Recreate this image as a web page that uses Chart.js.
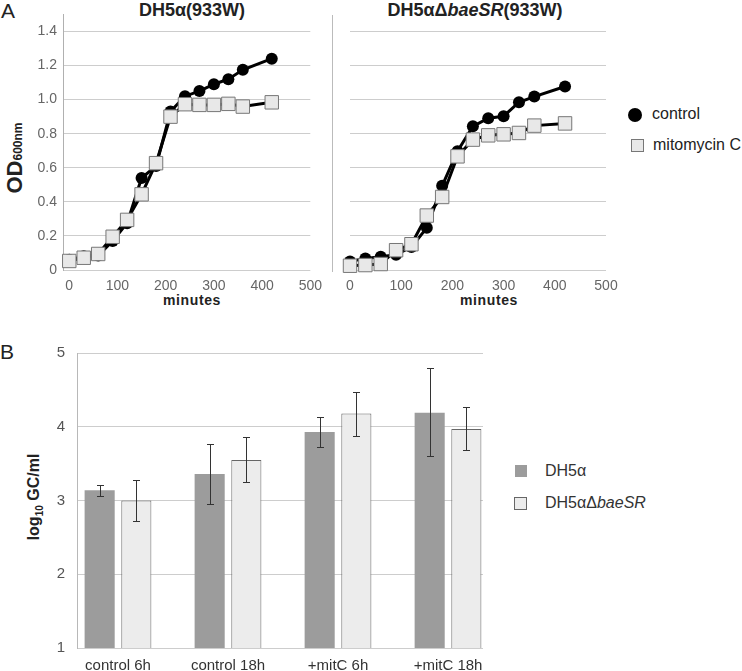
<!DOCTYPE html>
<html>
<head>
<meta charset="utf-8">
<script src="https://cdn.jsdelivr.net/npm/chart.js@4.4.1/dist/chart.umd.min.js"></script>
<style>
body{margin:0;width:742px;height:671px;position:relative;background:#fff;overflow:hidden;font-family:'Liberation Sans',Arial,sans-serif;color:#222}
canvas{position:absolute}
.lbl{position:absolute;white-space:nowrap;line-height:1;transform:translate(-50%,-50%)}
.left{position:absolute;white-space:nowrap;line-height:1;transform:translateY(-50%)}
.rot{transform:translate(-50%,-50%) rotate(-90deg)}
.sw{position:absolute;box-sizing:border-box}
</style>
</head>
<body>

<div class="left" style="left:1px;top:10px;font-size:21px">A</div>
<div class="lbl" style="left:192px;top:10px;font-size:18px;font-weight:bold">DH5α(933W)</div>
<div class="lbl" style="left:475px;top:10px;font-size:18px;font-weight:bold">DH5αΔ<i>baeSR</i>(933W)</div>
<div class="lbl rot" style="left:15px;top:158px;font-size:22px;font-weight:bold">OD<span style="font-size:12px">600nm</span></div>
<div class="lbl" style="left:192px;top:300px;font-size:14px;font-weight:bold;letter-spacing:0.6px">minutes</div>
<div class="lbl" style="left:489px;top:300px;font-size:14px;font-weight:bold;letter-spacing:0.6px">minutes</div>
<div class="sw" style="left:332px;top:15px;width:1px;height:257px;background:#bbb"></div>

<div class="sw" style="left:628px;top:108px;width:14px;height:14px;border-radius:50%;background:#000"></div>
<div class="left" style="left:652px;top:114px;font-size:16px">control</div>
<div class="sw" style="left:631px;top:139px;width:13px;height:13px;background:#e8e8e8;border:1px solid #777"></div>
<div class="left" style="left:653px;top:145px;font-size:16px">mitomycin C</div>

<div class="left" style="left:0px;top:351px;font-size:21px">B</div>
<div class="lbl rot" style="left:34px;top:497px;font-size:16px;font-weight:bold">log<span style="font-size:10px;position:relative;top:4px">10</span> GC/ml</div>
<div class="sw" style="left:515px;top:465px;width:12px;height:12px;background:#9c9c9c"></div>
<div class="left" style="left:545px;top:471px;font-size:16px;color:#333">DH5α</div>
<div class="sw" style="left:514px;top:497px;width:13px;height:13px;background:#ececec;border:1px solid #666"></div>
<div class="left" style="left:545px;top:503px;font-size:16px;color:#333">DH5αΔ<i>baeSR</i></div>

<canvas id="od1" width="330" height="305" style="left:0;top:0"></canvas>
<canvas id="od2" width="300" height="305" style="left:330px;top:0"></canvas>
<canvas id="gc" width="500" height="341" style="left:0;top:330px"></canvas>

<script>
// growth curves, minutes
var minutes = [0, 30, 60, 90, 120, 150, 180, 210, 240, 270, 300, 330, 360, 420];
var wtControl = [0.06, 0.08, 0.085, 0.17, 0.275, 0.54, 0.61, 0.93, 1.02, 1.05, 1.09, 1.12, 1.175, 1.24];
var wtMito = [0.053, 0.072, 0.094, 0.195, 0.294, 0.444, 0.627, 0.90, 0.973, 0.969, 0.969, 0.975, 0.959, 0.984];
var baeControl = [0.05, 0.068, 0.078, 0.09, 0.135, 0.247, 0.493, 0.696, 0.842, 0.889, 0.901, 0.983, 1.016, 1.075];
var baeMito = [0.025, 0.029, 0.035, 0.116, 0.151, 0.319, 0.428, 0.666, 0.764, 0.789, 0.795, 0.803, 0.846, 0.859];
var odTicks = [0, 0.2, 0.4, 0.6, 0.8, 1.0, 1.2, 1.4];
var minuteTicks = [0, 100, 200, 300, 400, 500];

// phage counts
var groups = ['control 6h', 'control 18h', '+mitC 6h', '+mitC 18h'];
var dh5a = [3.14, 3.36, 3.93, 4.19];
var dh5aLow = [3.06, 2.95, 3.73, 3.61];
var dh5aHigh = [3.21, 3.77, 4.13, 4.80];
var baeSR = [3.00, 3.55, 4.18, 3.97];
var baeSRLow = [2.72, 3.25, 3.88, 3.68];
var baeSRHigh = [3.28, 3.86, 4.47, 4.27];
var gcTicks = [1, 2, 3, 4, 5];

Chart.defaults.font.family = "'Liberation Sans', Arial, sans-serif";
Chart.defaults.animation = false;

function pts(xs, ys){
	var out = [];
	for(var i in xs){
		out.push({x: xs[i], y: ys[i]});
	}
	return out;
}

function odChart(id, control, mito, showY, xMin, yWidth, padRight){
	return new Chart(document.getElementById(id), {
		type: 'line',
		data: {
			datasets: [
				{
					label: 'control',
					data: pts(minutes, control),
					borderColor: '#000',
					borderWidth: 3,
					pointStyle: 'circle',
					pointRadius: 6,
					pointBackgroundColor: '#000',
					pointBorderColor: '#000',
					pointBorderWidth: 0,
					clip: false,
					order: 1
				},
				{
					label: 'mitomycin C',
					data: pts(minutes, mito),
					borderColor: '#000',
					borderWidth: 3,
					pointStyle: 'rect',
					pointRadius: 9.5,
					pointBackgroundColor: '#e8e8e8',
					pointBorderColor: '#777',
					pointBorderWidth: 1,
					clip: false,
					order: 0
				}
			]
		},
		options: {
			responsive: false,
			layout: {padding: {left: 0, right: padRight, top: 14, bottom: 0}},
			plugins: {legend: {display: false}, tooltip: {enabled: false}},
			scales: {
				x: {
					type: 'linear',
					offset: false,
					min: xMin,
					max: 500,
					afterBuildTicks: function(s){ s.ticks = minuteTicks.map(function(v){ return {value: v}; }); },
					afterFit: function(s){ s.height = 35; },
					grid: {display: false, drawTicks: false},
					border: {display: false},
					ticks: {color: '#666', font: {size: 14}, padding: 8, maxRotation: 0}
				},
				y: {
					min: 0,
					max: 1.5,
					afterBuildTicks: function(s){ s.ticks = odTicks.map(function(v){ return {value: v}; }); },
					afterFit: function(s){ s.width = yWidth; },
					grid: {color: '#cdcdcd', drawTicks: false},
					border: {display: showY, color: '#b0b0b0'},
					ticks: {
						display: showY,
						color: '#666',
						font: {size: 14},
						padding: 6,
						callback: function(v){ return v === 0 ? '0' : v.toFixed(1); }
					}
				}
			}
		}
	});
}

odChart('od1', wtControl, wtMito, true, -13, 63, 15);
odChart('od2', baeControl, baeMito, false, 0, 20, 24);

var errorBars = {
	id: 'errorBars',
	afterDatasetsDraw: function(chart){
		var ctx = chart.ctx;
		var y = chart.scales.y;
		chart.data.datasets.forEach(function(ds, i){
			var meta = chart.getDatasetMeta(i);
			meta.data.forEach(function(bar, j){
				var x = Math.round(bar.x) + 0.5;
				var top = Math.round(y.getPixelForValue(ds.errHigh[j])) + 0.5;
				var bottom = Math.round(y.getPixelForValue(ds.errLow[j])) + 0.5;
				ctx.save();
				ctx.strokeStyle = '#333';
				ctx.lineWidth = 1;
				ctx.beginPath();
				ctx.moveTo(x, top); ctx.lineTo(x, bottom);
				ctx.moveTo(x - 3.5, top); ctx.lineTo(x + 3.5, top);
				ctx.moveTo(x - 3.5, bottom); ctx.lineTo(x + 3.5, bottom);
				ctx.stroke();
				ctx.restore();
			});
		});
	}
};

var idx = groups.map(function(g, i){ return i; });

new Chart(document.getElementById('gc'), {
	type: 'bar',
	data: {
		datasets: [
			{
				label: 'DH5α',
				data: pts(idx, dh5a),
				errLow: dh5aLow,
				errHigh: dh5aHigh,
				backgroundColor: '#9c9c9c',
				borderWidth: 0
			},
			{
				label: 'DH5αΔbaeSR',
				data: pts(idx, baeSR),
				errLow: baeSRLow,
				errHigh: baeSRHigh,
				backgroundColor: '#ececec',
				borderColor: '#666',
				borderWidth: {top: 1, left: 1, right: 1, bottom: 0}
			}
		]
	},
	options: {
		responsive: false,
		categoryPercentage: 0.667,
		barPercentage: 0.82,
		layout: {padding: {left: 0, right: 17, top: 23, bottom: 0}},
		plugins: {legend: {display: false}, tooltip: {enabled: false}},
		scales: {
			x: {
				type: 'linear',
				offset: false,
				min: -0.3727,
				max: 3.318,
				afterBuildTicks: function(s){ s.ticks = idx.map(function(v){ return {value: v}; }); },
				afterFit: function(s){ s.height = 23; },
				grid: {display: false, drawTicks: false},
				border: {display: false},
				ticks: {
					color: '#333',
					font: {size: 15},
					padding: 9,
					maxRotation: 0,
					callback: function(v){ return groups[v]; }
				}
			},
			y: {
				min: 1,
				max: 5,
				afterBuildTicks: function(s){ s.ticks = gcTicks.map(function(v){ return {value: v}; }); },
				afterFit: function(s){ s.width = 77; },
				grid: {color: '#cdcdcd', drawTicks: false},
				border: {display: true, color: '#b8b8b8'},
				ticks: {color: '#555', font: {size: 15}, padding: 12}
			}
		}
	},
	plugins: [errorBars]
});
</script>
</body>
</html>
